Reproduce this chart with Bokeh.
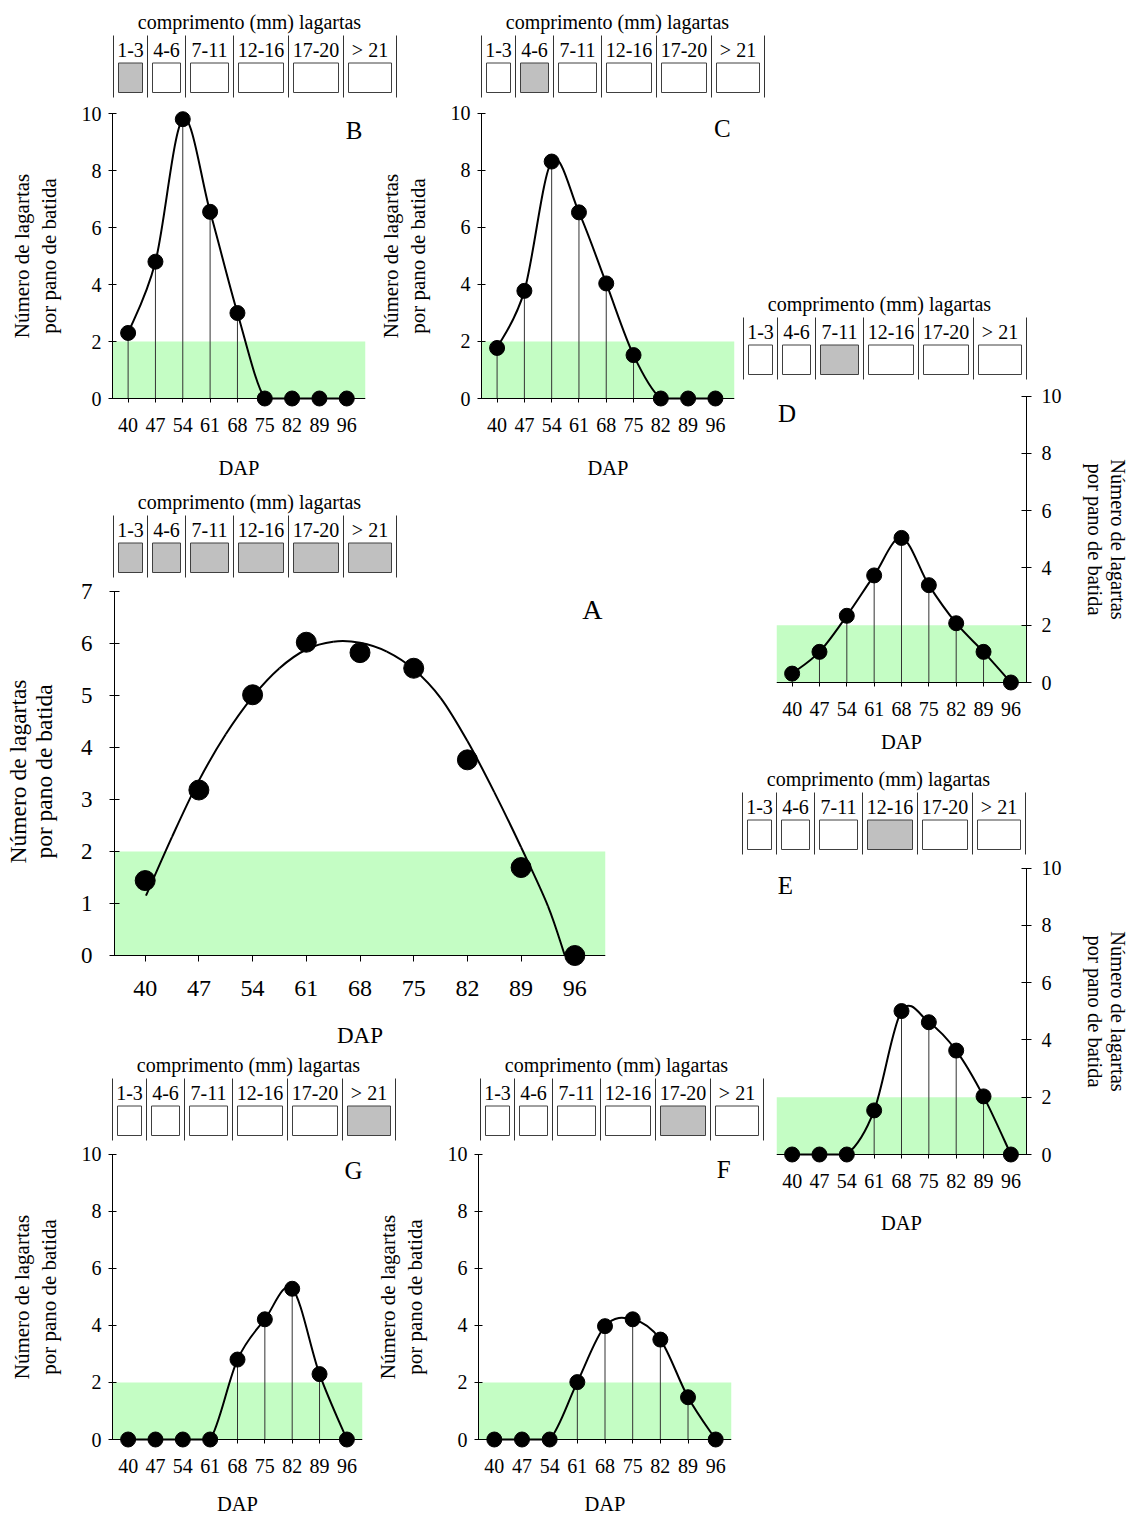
from bokeh.plotting import figure
from bokeh.models import Range1d, LinearAxis, FixedTicker, GridBox, ColumnDataSource
from bokeh.core.properties import value
from bokeh.embed import file_html
from bokeh.resources import INLINE

FONT = "Liberation Serif"
GREEN = "#c4fdc4"
GRAY = "#c0c0c0"

# ---------------- data ----------------
dap = [40, 47, 54, 61, 68, 75, 82, 89, 96]
size_classes = ["1-3", "4-6", "7-11", "12-16", "17-20", "> 21"]
legend_title = "comprimento (mm) lagartas"
y_title = "Número de lagartas\npor pano de batida"
x_title = "DAP"
control_level = 2

larvae_A = [1.44, 3.18, 5.01, 6.02, 5.82, 5.52, 3.76, 1.69, 0.0]   # all sizes
larvae_B = [2.3, 4.8, 9.8, 6.55, 3.0, 0, 0, 0, 0]                  # 1-3 mm
larvae_C = [1.77, 3.77, 8.3, 6.52, 4.03, 1.52, 0, 0, 0]            # 4-6 mm
larvae_D = [0.31, 1.07, 2.33, 3.74, 5.05, 3.4, 2.07, 1.07, 0]      # 7-11 mm
larvae_E = [0, 0, 0, 1.54, 5.01, 4.62, 3.63, 2.03, 0]              # 12-16 mm
larvae_F = [0, 0, 0, 2.01, 3.97, 4.21, 3.5, 1.48, 0]               # 17-20 mm
larvae_G = [0, 0, 0, 0, 2.8, 4.21, 5.28, 2.29, 0]                  # > 21 mm

# trend line of panel A
trend_A_dap = [40.1, 43.5, 47, 50.5, 54, 57.5, 61, 64.5, 68, 71.5, 75, 78.5, 82, 85.5, 89, 92.5, 94.7]
trend_A = [1.15, 2.28, 3.36, 4.25, 4.97, 5.52, 5.88, 6.03, 6.01, 5.84, 5.50, 4.95, 4.12, 3.14, 2.08, 0.95, 0.0]

highlight = {"A": [0, 1, 2, 3, 4, 5], "B": [0], "C": [1], "D": [2], "E": [3], "F": [4], "G": [5]}


def smooth(xs, ys, clamp=True):
    n = len(xs)
    d = dict(x0=[], y0=[], x1=[], y1=[], cx0=[], cy0=[], cx1=[], cy1=[])
    for i in range(n - 1):
        a = i - 1 if i > 0 else i
        b = i + 2 if i + 2 < n else i + 1
        c1x = xs[i] + (xs[i + 1] - xs[a]) / 6.0
        c1y = ys[i] + (ys[i + 1] - ys[a]) / 6.0
        c2x = xs[i + 1] - (xs[b] - xs[i]) / 6.0
        c2y = ys[i + 1] - (ys[b] - ys[i]) / 6.0
        if clamp:
            c1y = max(c1y, 0.0)
            c2y = max(c2y, 0.0)
        d["x0"].append(xs[i]); d["y0"].append(ys[i])
        d["x1"].append(xs[i + 1]); d["y1"].append(ys[i + 1])
        d["cx0"].append(c1x); d["cy0"].append(c1y)
        d["cx1"].append(c2x); d["cy1"].append(c2y)
    return ColumnDataSource(d)


def base_fig(w, h, xr, yr, **kw):
    p = figure(width=w, height=h, x_range=xr, y_range=yr, x_axis_type=None, y_axis_type=None,
               toolbar_location=None, output_backend="svg", title=None, frame_align=False,
               outline_line_color=None, background_fill_color=None, border_fill_color=None, **kw)
    return p


# ---------------- legend (size-class boxes) ----------------
LEG_W, LEG_H = 300, 91
LEG_X0, LEG_YL = 8, 27
LINE_DX = [0, 34, 72, 120, 175, 230, 283]


def make_legend(hi):
    p = base_fig(LEG_W, LEG_H, Range1d(0, LEG_W), Range1d(LEG_H, 0), min_border=0)
    xl = [LEG_X0 + d for d in LINE_DX]
    p.segment(x0=xl, y0=[LEG_YL] * 7, x1=xl, y1=[LEG_YL + 62] * 7, line_color="#333333", line_width=1)
    lefts = [xl[i] + 5 for i in range(6)]
    rights = [xl[i + 1] - 5 for i in range(6)]
    fills = [GRAY if i in hi else "white" for i in range(6)]
    p.quad(left=lefts, right=rights, top=[LEG_YL + 27.5] * 6, bottom=[LEG_YL + 57] * 6,
           fill_color=fills, line_color="#404040", line_width=1)
    p.text(x=[(xl[i] + xl[i + 1]) / 2 for i in range(6)], y=[LEG_YL + 14.5] * 6, text=size_classes,
           text_font=value(FONT), text_font_size="20px", text_align="center",
           text_baseline="middle", text_color="black")
    p.text(x=[LEG_X0 + 136], y=[LEG_YL - 13.4], text=[legend_title], text_font=value(FONT),
           text_font_size="20px", text_align="center", text_baseline="middle", text_color="black")
    return p


# ---------------- panels ----------------
STYLES = {
    "small": dict(dot=15, ext_top=0.35, ext_bot=10, ytin=4, ytout=4, yls=7, ytf=20, ylf=21, yals=18, ylh=1.1,
                  xtout=4, xls=9, xtf=20, xlf=20.5, xals=22, letter=25),
    "right": dict(dot=15, ext_top=0.35, ext_bot=10, ytin=5, ytout=5, yls=10, ytf=20, ylf=20.5, yals=19, ylh=1.08,
                  xtout=4, xls=9, xtf=20, xlf=20.5, xals=21, letter=25),
    "big": dict(dot=20, ext_top=0.3, ext_bot=12, ytin=5, ytout=5, yls=17, ytf=23, ylf=23.5, yals=21, ylh=1.0,
                xtout=6, xls=13, xtf=24, xlf=23, xals=24, letter=28),
}


def style_axis(ax, tf, lf, tin, tout, ls, als, lh):
    ax.axis_line_color = "black"
    ax.axis_line_width = 1
    ax.major_tick_line_color = "black"
    ax.major_tick_in = tin
    ax.major_tick_out = tout
    ax.minor_tick_line_color = None
    ax.major_label_text_font = FONT
    ax.major_label_text_font_size = f"{tf}px"
    ax.major_label_text_color = "black"
    ax.major_label_standoff = ls
    ax.axis_label_text_font = FONT
    ax.axis_label_text_font_size = f"{lf}px"
    ax.axis_label_text_font_style = "normal"
    ax.axis_label_text_color = "black"
    ax.axis_label_standoff = als
    ax.axis_label_text_line_height = lh


def make_panel(vals, letter, ymax, ystep, rect, frame, x_end, y0, ppy, side, letter_xy, style,
               xals=None, curve=None):
    st = STYLES[style]
    fl, ft, fr, fb = rect
    frame_l, frame_r = frame
    top_px = int(round(y0 - (ymax + st["ext_top"]) * ppy))
    bot_px = y0 + st["ext_bot"]
    p = base_fig(fr - fl, fb - ft, Range1d(36, x_end), Range1d(-(bot_px - y0) / ppy, (y0 - top_px) / ppy),
                 min_border_left=frame_l - fl, min_border_right=fr - frame_r,
                 min_border_top=top_px - ft, min_border_bottom=fb - bot_px)

    # x axis line + ticks at y = 0
    xline = LinearAxis(fixed_location=0, bounds=(36, x_end), ticker=FixedTicker(ticks=dap),
                       major_label_overrides={t: "" for t in dap})
    style_axis(xline, st["xtf"], st["xlf"], 0, st["xtout"], 0, 0, 1.2)
    p.add_layout(xline, "below")
    # x tick labels and title
    xa = LinearAxis(ticker=FixedTicker(ticks=dap), axis_label=x_title)
    style_axis(xa, st["xtf"], st["xlf"], 0, 0, st["xls"], st["xals"] if xals is None else xals, 1.2)
    xa.axis_line_color = None
    xa.major_tick_line_color = None
    p.add_layout(xa, "below")

    ya = LinearAxis(bounds=(0, ymax), ticker=FixedTicker(ticks=list(range(0, ymax + 1, ystep))),
                    axis_label=y_title)
    style_axis(ya, st["ytf"], st["ylf"], st["ytin"], st["ytout"], st["yls"], st["yals"], st["ylh"])
    p.add_layout(ya, side)

    p.quad(left=[36], right=[x_end], bottom=[0], top=[control_level], fill_color=GREEN, line_color=None)
    if curve is None:
        p.segment(x0=dap, y0=[0] * len(dap), x1=dap, y1=vals, line_color="#333333", line_width=1)
        src = smooth(dap, vals, clamp=True)
    else:
        src = smooth(curve[0], curve[1], clamp=True)
    p.bezier(x0="x0", y0="y0", x1="x1", y1="y1", cx0="cx0", cy0="cy0", cx1="cx1", cy1="cy1",
             source=src, line_color="black", line_width=2)
    p.scatter(dap, vals, size=st["dot"], fill_color="black", line_color="black")
    p.text(x=[letter_xy[0]], y=[letter_xy[1]], text=[letter], text_font=value(FONT),
           text_font_size=f"{st['letter']}px", text_align="center", text_baseline="middle", text_color="black")
    return p


items = []
# plots: rect = (left, top, right, bottom) in page pixels
R_B = (0, 98, 380, 510)
R_C = (370, 98, 740, 510)
R_D = (740, 382, 1132, 790)
R_E = (770, 852, 1132, 1262)
R_A = (0, 570, 740, 1075)
R_G = (0, 1140, 380, 1518)
R_F = (368, 1140, 740, 1518)
items.append((make_panel(larvae_B, "B", 10, 2, R_B, (112, 365), 100.8, 398, 28.5,
                         "left", (97.9, 9.4), "small"), R_B))
items.append((make_panel(larvae_C, "C", 10, 2, R_C, (481, 734), 100.9, 398, 28.55,
                         "left", (97.8, 9.46), "small"), R_C))
items.append((make_panel(larvae_D, "D", 10, 2, R_D, (776, 1027), 100, 682, 28.63,
                         "right", (38.7, 9.4), "right", xals=12), R_D))
items.append((make_panel(larvae_E, "E", 10, 2, R_E, (776, 1026), 100, 1154, 28.63,
                         "right", (38.3, 9.4), "right"), R_E))
items.append((make_panel(larvae_A, "A", 7, 1, R_A, (114, 605), 100, 955, 52.04,
                         "left", (98.3, 6.64), "big", curve=(trend_A_dap, trend_A)), R_A))
items.append((make_panel(larvae_G, "G", 10, 2, R_G, (112, 362), 100, 1439, 28.55,
                         "left", (97.7, 9.42), "small", xals=17), R_G))
items.append((make_panel(larvae_F, "F", 10, 2, R_F, (478, 731), 100, 1439, 28.55,
                         "left", (98.0, 9.46), "small", xals=17), R_F))

# legends: (first separator x, separator top y)
legend_pos = {"B": (113, 35), "C": (481, 35), "A": (113, 515), "D": (743, 317),
              "E": (742, 792), "G": (112, 1078), "F": (480, 1078)}
for k, (x0, yl) in legend_pos.items():
    l, t = x0 - LEG_X0, yl - LEG_YL
    items.append((make_legend(highlight[k]), (l, t, l + LEG_W, t + LEG_H)))

ORG = 0
xs = sorted({ORG} | {r[0] for _, r in items} | {r[2] for _, r in items})
ys = sorted({ORG} | {r[1] for _, r in items} | {r[3] for _, r in items})
cols = [f"{xs[i + 1] - xs[i]}px" for i in range(len(xs) - 1)]
rows = [f"{ys[i + 1] - ys[i]}px" for i in range(len(ys) - 1)]
children = []
for fig, (l, t, r, b) in items:
    children.append((fig, ys.index(t), xs.index(l), ys.index(b) - ys.index(t), xs.index(r) - xs.index(l)))

grid = GridBox(children=children, rows=rows, cols=cols)

open("out.html", "w").write(file_html(grid, INLINE))
